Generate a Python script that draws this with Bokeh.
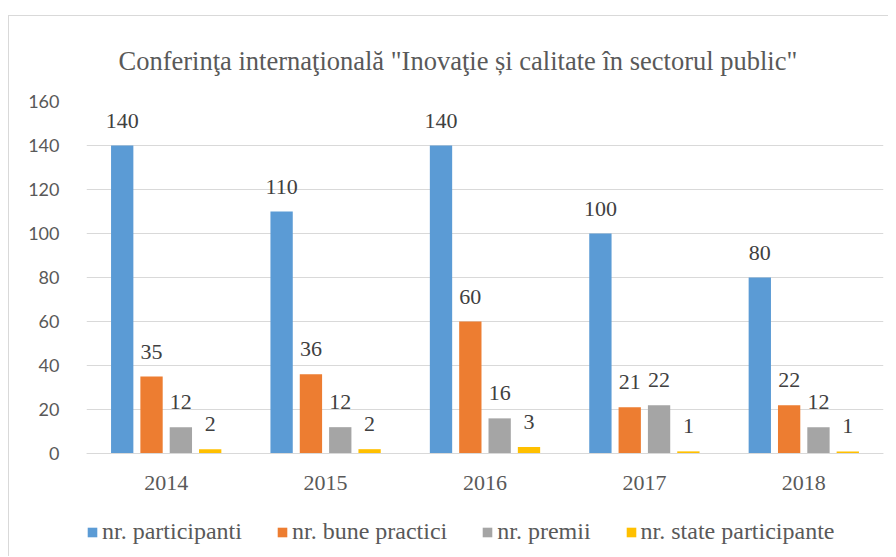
from bokeh.plotting import figure
from bokeh.models import ColumnDataSource, FactorRange, Legend, LegendItem, Range1d, FixedTicker
from bokeh.transform import dodge
from bokeh.embed import file_html
from bokeh.resources import INLINE
from bokeh.core.properties import value

years = ["2014", "2015", "2016", "2017", "2018"]
participanti = [140, 110, 140, 100, 80]
bune_practici = [35, 36, 60, 21, 22]
premii = [12, 12, 16, 22, 12]
state_participante = [2, 2, 3, 1, 1]
series_names = ["nr. participanti", "nr. bune practici", "nr. premii", "nr. state participante"]
y_ticks = [0, 20, 40, 60, 80, 100, 120, 140, 160]
title_text = 'Conferinţa internaţională "Inovaţie și calitate în sectorul public"'

series_values = [participanti, bune_practici, premii, state_participante]
colors = ["#5B9BD5", "#ED7D31", "#A5A5A5", "#FFC000"]
offsets = [-0.276, -0.092, 0.092, 0.276]
bar_w = 0.14

SERIF = "Liberation Serif"

# lower part of the frame (below 0) holds the category labels and the legend
p = figure(x_range=FactorRange(*years, range_padding=0), y_range=Range1d(-44.5, 160),
           width=880, height=541, output_backend="svg", toolbar_location=None,
           min_border_left=77, min_border_right=6, min_border_top=85, min_border_bottom=6)
p.styles = {"margin-top": "15px", "margin-left": "8px",
            "border-left": "1px solid #D9D9D9", "border-top": "1px solid #D9D9D9"}
p.outline_line_color = None

p.title.text = title_text
p.title.align = "left"
p.title.offset = 32
p.title.standoff = 51
p.title.text_font = SERIF
p.title.text_font_size = "26.5px"
p.title.text_font_style = "normal"
p.title.text_color = "#595959"

items = []
for name, vals, col, off in zip(series_names, series_values, colors, offsets):
    src = ColumnDataSource(dict(years=years, vals=vals, labels=[str(v) for v in vals]))
    r = p.vbar(x=dodge("years", off, range=p.x_range), top="vals", bottom=0, width=bar_w,
               source=src, fill_color=col, line_color=None)
    p.text(x=dodge("years", off, range=p.x_range), y="vals", text="labels", source=src,
           text_align="center", text_baseline="alphabetic", y_offset=-25,
           text_font=value(SERIF), text_font_size="22px", text_color="#404040")
    items.append(LegendItem(label=name, renderers=[r]))

p.yaxis.ticker = FixedTicker(ticks=y_ticks)
p.yaxis.axis_line_color = None
p.yaxis.major_tick_line_color = None
p.yaxis.minor_tick_line_color = None
p.yaxis.major_label_text_font = "Lato"
p.yaxis.major_label_text_font_size = "18px"
p.yaxis.major_label_text_color = "#595959"
p.yaxis.major_label_standoff = 21

p.xaxis.fixed_location = 0
p.xaxis.axis_line_color = "#D9D9D9"
p.xaxis.major_tick_line_color = None
p.xaxis.minor_tick_line_color = None
p.xaxis.major_label_text_font = SERIF
p.xaxis.major_label_text_font_size = "22px"
p.xaxis.major_label_text_color = "#595959"
p.xaxis.major_label_standoff = 16

p.xgrid.grid_line_color = None
p.ygrid.grid_line_color = "#D9D9D9"
p.ygrid.grid_line_width = 1

legend = Legend(items=items, orientation="horizontal", location=(0, 6),
                label_text_font=SERIF, label_text_font_size="24px", label_text_color="#595959",
                glyph_width=12, glyph_height=12, label_standoff=4, spacing=34,
                padding=0, margin=0, border_line_color=None, background_fill_alpha=0)
p.add_layout(legend)

open("out.html", "w").write(file_html(p, INLINE))
